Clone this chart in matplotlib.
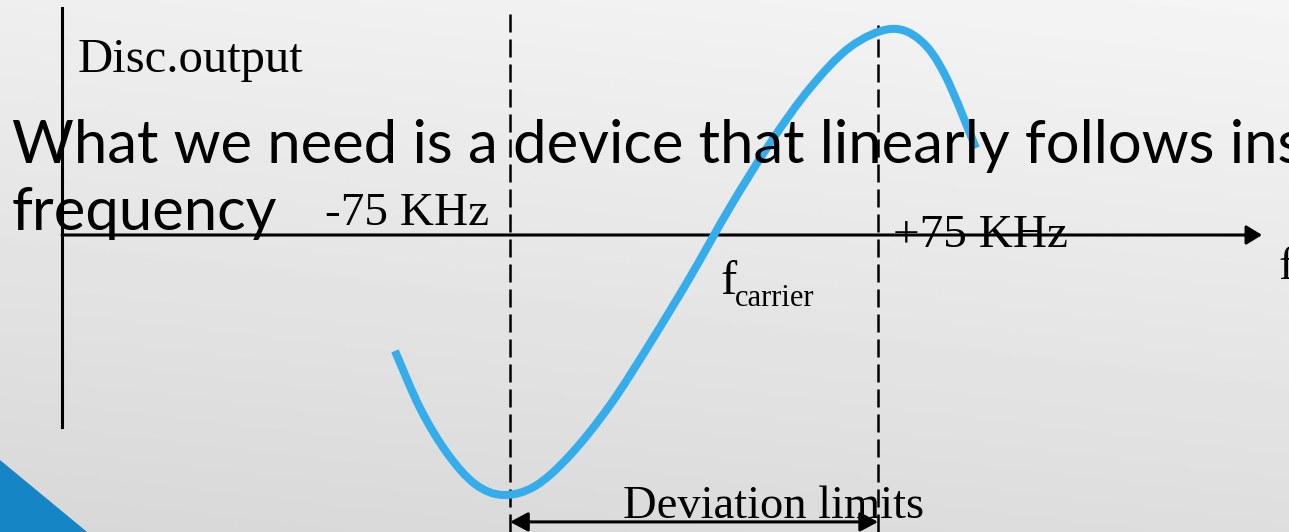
import matplotlib.pyplot as plt
import numpy as np
from matplotlib.patches import Polygon, PathPatch
from matplotlib.path import Path

# discriminator S-curve (kHz vs. relative output)
freq_khz = [-121.9, -111.7, -100.7, -89.3, -77.8, -64.8, -50.5, -34.2, -17.9,
            -1.6, 14.7, 31.0, 47.3, 63.6, 79.9, 92.1, 102.3, 114.9]
disc_out = [-0.560, -0.836, -1.053, -1.203, -1.256, -1.213, -1.063, -0.821, -0.522,
            -0.203, 0.135, 0.444, 0.710, 0.908, 0.995, 0.942, 0.773, 0.420]

deviation_khz = [-75, 75]
dash_top = [1.097, 1.014]
axis_start_khz = -257.6
axis_end_khz = 231.5
yaxis_span = [-0.928, 1.097]

XLIM = (-282.9, 242.5)
YLIM = (-1.4348, 1.1353)

serif = 'Liberation Serif'
sans = 'Lato'
blue = '#35adea'

fig = plt.figure(figsize=(12.89, 5.32), dpi=100)
ax = fig.add_axes([0, 0, 1, 1])
ax.set_xlim(*XLIM)
ax.set_ylim(*YLIM)
ax.axis('off')

# slide background gradient
gy, gx = np.mgrid[0:1:200j, 0:1:200j]
grad = 0.935 - 0.09 * gy + 0.025 * gx
ax.imshow(grad, extent=[XLIM[0], XLIM[1], YLIM[0], YLIM[1]], origin='upper',
          aspect='auto', cmap='gray', vmin=0, vmax=1, zorder=0)

# blue corner triangle
ax.add_patch(Polygon([[XLIM[0], -1.087], [-247.4, YLIM[0]], [XLIM[0], YLIM[0]]],
                     closed=True, color='#1585c6', lw=0, zorder=1))


def px(x, y):
    return x / 1289, 1 - y / 532


# axes of the sketch
ax.plot([axis_start_khz, axis_start_khz], yaxis_span, color='black', lw=2.2, zorder=3)
ax.annotate('', xy=(axis_end_khz, 0), xytext=(axis_start_khz, 0),
            arrowprops=dict(arrowstyle='-|>,head_length=0.47,head_width=0.29',
                            mutation_scale=20, lw=2.2, color='black',
                            shrinkA=0, shrinkB=0), zorder=3)

for xv, top in zip(deviation_khz, dash_top):
    ax.plot([xv, xv], [YLIM[0], top], color='black', lw=1.8,
            ls=(0, (7.2, 2.8)), zorder=3)

ax.annotate('', xy=(deviation_khz[1], -1.386), xytext=(deviation_khz[0], -1.386),
            arrowprops=dict(arrowstyle='<|-|>,head_length=0.54,head_width=0.29',
                            mutation_scale=20, lw=2.2, color='black',
                            shrinkA=0, shrinkB=0), zorder=3)

# smooth curve through the points (Catmull-Rom as cubic Bezier)
P = np.column_stack([freq_khz, disc_out])
Pe = np.vstack([P[0], P, P[-1]])
verts = [P[0]]
codes = [Path.MOVETO]
for i in range(1, len(Pe) - 2):
    c1 = Pe[i] + (Pe[i + 1] - Pe[i - 1]) / 6
    c2 = Pe[i + 1] - (Pe[i + 2] - Pe[i]) / 6
    verts += [c1, c2, Pe[i + 1]]
    codes += [Path.CURVE4] * 3
ax.add_patch(PathPatch(Path(verts, codes), facecolor='none', edgecolor=blue,
                       lw=5.8, capstyle='butt', joinstyle='round', zorder=4))

# labels
ax.text(*px(78, 72), 'Disc.output', transform=fig.transFigure, family=serif,
        fontsize=35, va='baseline', zorder=5)
ax.text(*px(325, 225), '-75 KHz', transform=fig.transFigure, family=serif,
        fontsize=34, va='baseline', zorder=5)
ax.text(*px(893, 247), '+75 KHz', transform=fig.transFigure, family=serif,
        fontsize=34, va='baseline', zorder=5)
ax.text(*px(720, 294), 'f', transform=fig.transFigure, family=serif,
        fontsize=35, va='baseline', zorder=5)
ax.text(*px(735, 306), 'carrier', transform=fig.transFigure, family=serif,
        fontsize=22, va='baseline', zorder=5)
ax.text(*px(1279, 279), 'f', transform=fig.transFigure, family=serif,
        fontsize=34, va='baseline', zorder=5)
ax.text(*px(623, 518), 'Deviation limits', transform=fig.transFigure, family=serif,
        fontsize=33.5, va='baseline', zorder=5)

ax.text(*px(12, 163), 'What we need is a device that linearly follows ins',
        transform=fig.transFigure, family=sans, fontsize=43, va='baseline', zorder=5)
ax.text(*px(12, 230), 'frequency', transform=fig.transFigure, family=sans,
        fontsize=43, va='baseline', zorder=5)

fig.savefig('out.png', dpi=100)
